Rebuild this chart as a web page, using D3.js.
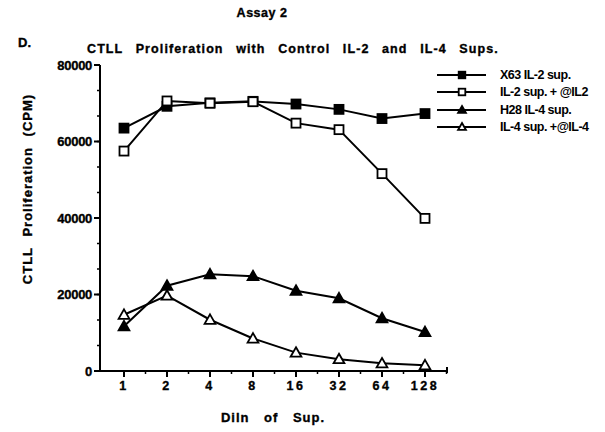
<!DOCTYPE html>
<html>
<head>
<meta charset="utf-8">
<script src="https://cdn.jsdelivr.net/npm/d3@7"></script>
<style>
  body { margin: 0; background: #fff; }
  svg { display: block; font-family: "Liberation Sans", Arial, sans-serif; }
  .heavy { font-weight: bold; stroke: #000; stroke-width: 0.35px; }
</style>
</head>
<body>
<div id="chart"></div>
<script>
// dilutions of supernatant
const dilutions = [1, 2, 4, 8, 16, 32, 64, 128];
const yTicks = [0, 20000, 40000, 60000, 80000];

// CPM values
const x63IL2 = [63500, 69200, 70100, 70500, 69800, 68400, 66000, 67300];
const il2Anti = [57500, 70600, 70000, 70400, 64800, 63100, 51600, 39900];
const h28IL4 = [11700, 22300, 25300, 24800, 21000, 19000, 13800, 10200];
const il4Anti = [14700, 19700, 13400, 8500, 4800, 3100, 2000, 1500];

const seriesNames = ["X63 IL-2 sup.", "IL-2 sup. + @IL2", "H28 IL-4 sup.", "IL-4 sup. +@IL-4"];
const seriesShapes = ["square", "square", "triangle", "triangle"];
const seriesFilled = [true, false, true, false];
const seriesValues = [x63IL2, il2Anti, h28IL4, il4Anti];

const W = 605, H = 432;
const svg = d3.select("#chart").append("svg").attr("width", W).attr("height", H);

const x = d3.scaleLog().base(2).domain([1, 128]).range([124, 425]);
const y = d3.scaleLinear().domain([0, 80000]).range([371, 65]);
const x0 = 100, xEnd = 447;

// titles
svg.append("text").attr("class", "heavy").attr("x", 262).attr("y", 17).attr("text-anchor", "middle")
  .style("font-size", "12.5px").style("letter-spacing", "0.5px").text("Assay 2");
svg.append("text").attr("class", "heavy").attr("x", 18).attr("y", 47)
  .style("font-size", "13px").text("D.");
svg.append("text").attr("class", "heavy").attr("x", 87).attr("y", 53)
  .style("font-size", "12.5px").style("word-spacing", "8px").style("letter-spacing", "1.1px")
  .text("CTLL Proliferation with Control IL-2 and IL-4 Sups.");

// y axis
const gy = svg.append("g").attr("transform", `translate(${x0},0)`);
gy.append("line").attr("x1", 0).attr("x2", 0).attr("y1", y(80000)).attr("y2", y(0))
  .attr("stroke", "#000").attr("stroke-width", 2);
const yMinor = d3.range(0, 80001, 20000 / 3);
gy.selectAll(".ymin").data(yMinor).enter().append("line")
  .attr("x1", -3).attr("x2", 0).attr("y1", d => y(d)).attr("y2", d => y(d))
  .attr("stroke", "#000").attr("stroke-width", 1.5);
gy.selectAll(".ymaj").data(yTicks).enter().append("line")
  .attr("x1", -6).attr("x2", 0).attr("y1", d => y(d)).attr("y2", d => y(d))
  .attr("stroke", "#000").attr("stroke-width", 2);
gy.selectAll(".ylab").data(yTicks).enter().append("text").attr("class", "heavy")
  .attr("x", -8).attr("y", d => y(d)).attr("dy", "0.35em").attr("text-anchor", "end")
  .style("font-size", "13px").style("letter-spacing", "-0.3px")
  .text(d => d);
svg.append("text").attr("class", "heavy").attr("transform", `translate(32,189) rotate(-90)`).attr("text-anchor", "middle")
  .style("font-size", "13px").style("word-spacing", "6px").style("letter-spacing", "1px")
  .text("CTLL Proliferation (CPM)");

// x axis
const gx = svg.append("g").attr("transform", `translate(0,${y(0)})`);
gx.append("line").attr("x1", x0).attr("x2", xEnd).attr("y1", 0).attr("y2", 0)
  .attr("stroke", "#000").attr("stroke-width", 2);
const xMinor = dilutions.map(d => d * Math.SQRT2);
gx.selectAll(".xmin").data(xMinor).enter().append("line")
  .attr("x1", d => x(d)).attr("x2", d => x(d)).attr("y1", 0).attr("y2", 3)
  .attr("stroke", "#000").attr("stroke-width", 1.5);
gx.selectAll(".xmaj").data(dilutions).enter().append("line")
  .attr("x1", d => x(d)).attr("x2", d => x(d)).attr("y1", 0).attr("y2", 6)
  .attr("stroke", "#000").attr("stroke-width", 2);
gx.append("line").attr("x1", xEnd).attr("x2", xEnd).attr("y1", -4).attr("y2", 2)
  .attr("stroke", "#000").attr("stroke-width", 2);
gx.selectAll(".xlab").data(dilutions).enter().append("text").attr("class", "heavy")
  .attr("x", d => x(d)).attr("y", 19).attr("text-anchor", "middle")
  .style("font-size", "12.5px").style("letter-spacing", "2.5px")
  .text(d => d);
svg.append("text").attr("class", "heavy").attr("x", 273).attr("y", 422).attr("text-anchor", "middle")
  .style("font-size", "13px").style("word-spacing", "10px").style("letter-spacing", "1px")
  .text("Diln of Sup.");

// markers
function drawMarker(g, shape, filled, cx, cy, r) {
  if (shape === "square") {
    g.append("rect").attr("x", cx - r).attr("y", cy - r).attr("width", 2 * r).attr("height", 2 * r)
      .attr("fill", filled ? "#000" : "#fff").attr("stroke", "#000").attr("stroke-width", 1.8);
  } else {
    g.append("path").attr("d", `M${cx},${cy - r * 1.2}L${cx + r * 1.2},${cy + r * 0.9}L${cx - r * 1.2},${cy + r * 0.9}Z`)
      .attr("fill", filled ? "#000" : "#fff").attr("stroke", "#000").attr("stroke-width", 1.8);
  }
}

const line = d3.line().x((d, i) => x(dilutions[i])).y(d => y(d));
seriesValues.forEach((vals, s) => {
  const g = svg.append("g");
  g.append("path").attr("d", line(vals)).attr("fill", "none").attr("stroke", "#000").attr("stroke-width", 2);
  vals.forEach((v, i) => drawMarker(g, seriesShapes[s], seriesFilled[s], x(dilutions[i]), y(v), 4.5));
});

// legend
const legY = [75, 92, 110, 127];
seriesNames.forEach((name, s) => {
  const g = svg.append("g");
  g.append("line").attr("x1", 437).attr("x2", 486).attr("y1", legY[s]).attr("y2", legY[s])
    .attr("stroke", "#000").attr("stroke-width", 2);
  drawMarker(g, seriesShapes[s], seriesFilled[s], 462, legY[s], 3.3);
  g.append("text").attr("x", 500).attr("y", legY[s]).attr("dy", "0.35em")
    .style("font-size", "12.5px").style("font-weight", "bold").style("letter-spacing", "-0.5px")
    .text(name);
});
</script>
</body>
</html>
